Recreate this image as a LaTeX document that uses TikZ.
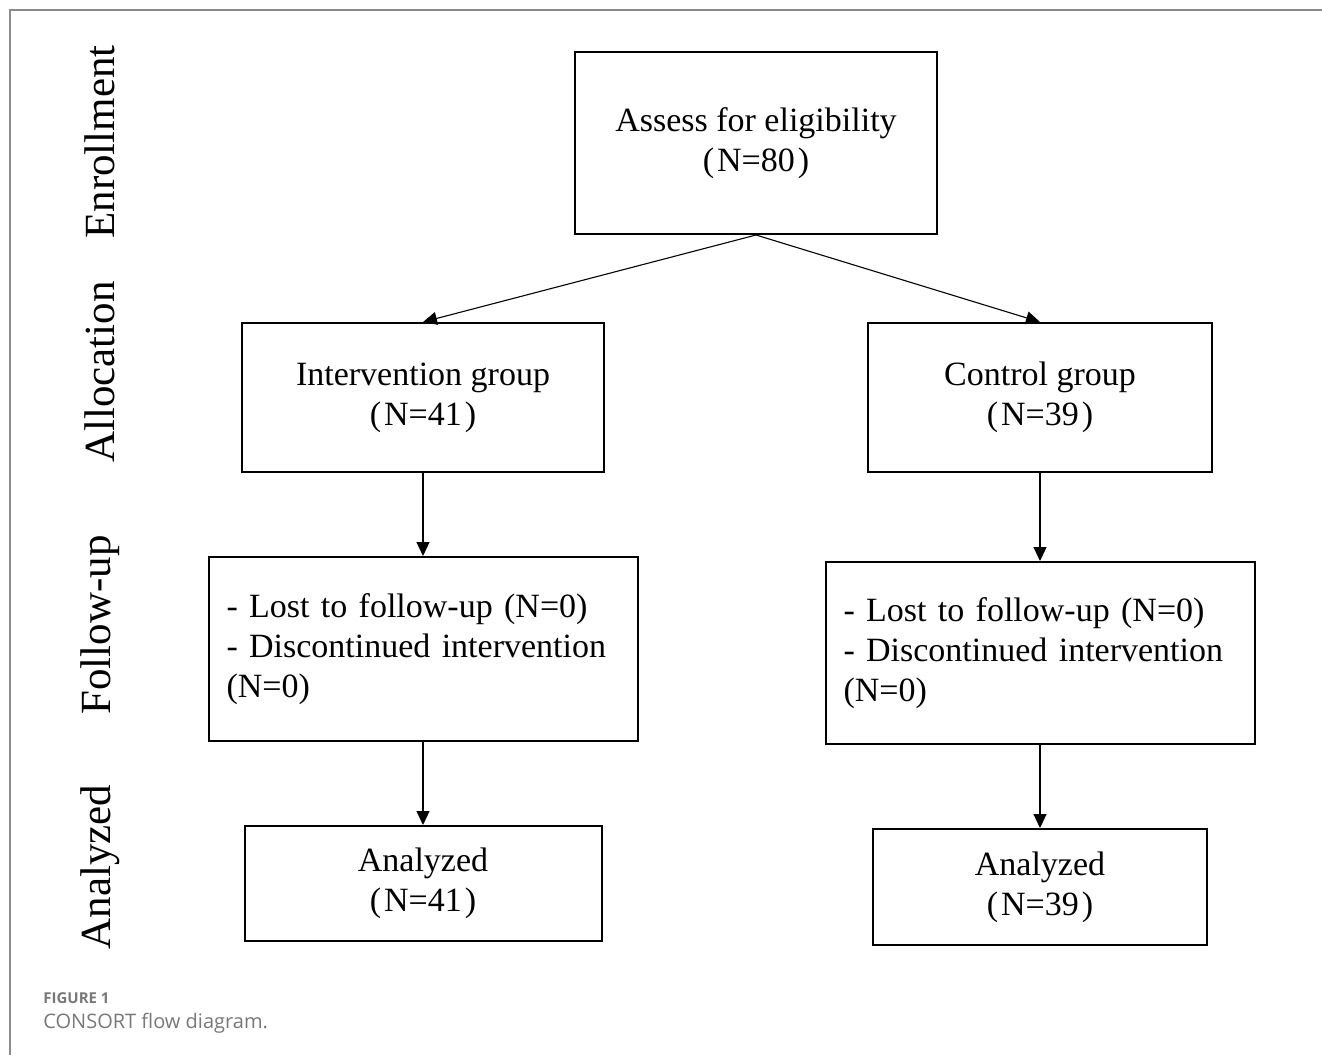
\documentclass[tikz,border=0pt]{standalone}
\usepackage{fontspec}
\setmainfont{Liberation Serif}
\newfontfamily\capfont{Open Sans}
\usepackage{xcolor}
\usepackage{tikz}
\usetikzlibrary{
	positioning,
	arrows.meta
}
\definecolor{capgray}{HTML}{787878}
\definecolor{framegray}{HTML}{8C8C8C}
\newcommand{\boxfont}{\fontsize{17}{20}\selectfont}
\newcommand{\phasefont}{\fontsize{21.5}{24}\selectfont}
\newcommand{\nn}[1]{(\kern1.5pt N=#1\kern1.5pt)}
\tikzset{
	node distance=41.5pt,
	stagebox/.style={
		draw,
		line width=1pt,
		align=center,
		font=\boxfont,
		inner sep=0pt
	},
	listbox/.style={
		stagebox,
		align=left,
		font={\boxfont\spaceskip=0.2em\relax},
		text width=196.5pt,
		inner xsep=9pt
	},
	phase/.style={
		rotate=90,
		font=\phasefont
	},
	every edge/.append style={
		-{Triangle[length=7pt,width=6.5pt]},
		line width=0.55pt
	}
}

\begin{document}
\begin{tikzpicture}[x=0.5pt,y=-0.5pt]
		\useasboundingbox (0,0) rectangle (1322,1055);
		\draw[framegray,line width=0.6pt] (10,1055) |- (1322,10);

		\draw
			node[stagebox,minimum width=181pt,minimum height=91pt]   (assess)  at (756,143)   {Assess for eligibility\\\nn{80}}
			node[stagebox,minimum width=181pt,minimum height=74.5pt] (interv)  at (423,397.5) {Intervention group\\\nn{41}}
			node[stagebox,minimum width=172pt,minimum height=74.5pt] (control) at (1040,397.5) {Control group\\\nn{39}}
			node[listbox,minimum height=92pt,below=of interv]         (lost1)   {- Lost to follow-up (N=0)\\- Discontinued intervention\\(N=0)}
			node[listbox,minimum height=91pt,below=44pt of control]   (lost2)   {- Lost to follow-up (N=0)\\- Discontinued intervention\\(N=0)}
			node[stagebox,minimum width=178.5pt,minimum height=57.5pt,below=of lost1] (anal1) {Analyzed\\\nn{41}}
			node[stagebox,minimum width=167pt,minimum height=58pt,below=of lost2]     (anal2) {Analyzed\\\nn{39}}

			(assess.south)  edge (interv.north)
			(assess.south)  edge (control.north)
			(interv.south)  edge (lost1.north)
			(control.south) edge (lost2.north)
			(lost1.south)   edge (anal1.north)
			(lost2.south)   edge (anal2.north)
		;

		% phase labels
		\node[phase] (enroll) at (100,142) {Enrollment};
		\node[phase] (alloc)  at (100,372) {Allocation};
		\node[phase] (follow) at (100,625) {Follow-up};
		\node[phase] (analyz) at (100,867) {Analyzed};

		% caption
		\node[anchor=base west,inner sep=0pt,text=capgray,font=\capfont\bfseries\fontsize{7.5}{9}\selectfont] (figno) at (43,1003) {FIGURE 1};
		\node[anchor=base west,inner sep=0pt,text=capgray,font=\capfont\fontsize{10}{12}\selectfont] (figcap) at (43,1028) {CONSORT flow diagram.};
	\end{tikzpicture}
\end{document}
